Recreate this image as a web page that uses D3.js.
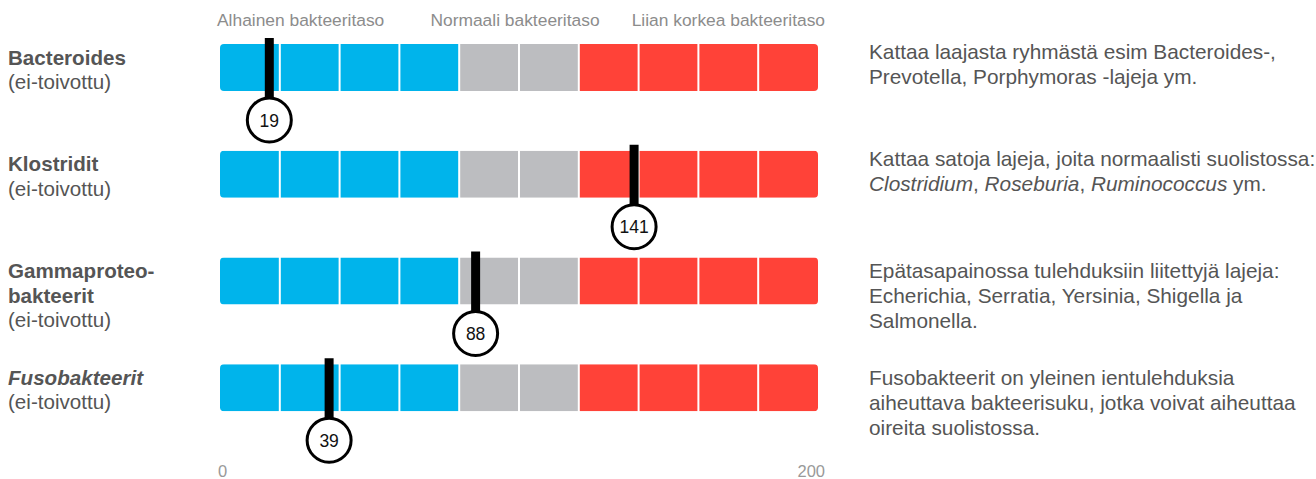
<!DOCTYPE html>
<html>
<head>
<meta charset="utf-8">
<script src="https://cdn.jsdelivr.net/npm/d3@7"></script>
<style>
  body { margin: 0; background: #fff; }
  svg { display: block; font-family: Arial, "Liberation Sans", sans-serif; }
</style>
</head>
<body>
<script>
// zones of the scale (0..200, split into cells of 20)
var zoneNames = ["Alhainen bakteeritaso", "Normaali bakteeritaso", "Liian korkea bakteeritaso"];
var zoneFrom = [0, 80, 120];
var zoneTo = [80, 120, 200];
var zoneColors = ["#00b4eb", "#bcbdc0", "#ff4238"];
var cellSize = 20;
var axisTicks = [0, 200];

// rows
var bacteria = ["Bacteroides", "Klostridit", "Gammaproteo-|bakteerit", "*Fusobakteerit*"];
var subtitles = ["(ei-toivottu)", "(ei-toivottu)", "(ei-toivottu)", "(ei-toivottu)"];
var values = [19, 141, 88, 39];
var descriptions = [
  "Kattaa laajasta ryhmästä esim Bacteroides-,|Prevotella, Porphymoras -lajeja ym.",
  "Kattaa satoja lajeja, joita normaalisti suolistossa:|*Clostridium*, *Roseburia*, *Ruminococcus* ym.",
  "Epätasapainossa tulehduksiin liitettyjä lajeja:|Echerichia, Serratia, Yersinia, Shigella ja|Salmonella.",
  "Fusobakteerit on yleinen ientulehduksia|aiheuttava bakteerisuku, jotka voivat aiheuttaa|oireita suolistossa."
];

var width = 1316, height = 479;

var svg = d3.select("body").append("svg")
    .attr("width", width)
    .attr("height", height);

var x = d3.scaleLinear().domain([0, 200]).range([220, 818]);
var y = d3.scaleBand().domain(d3.range(bacteria.length)).range([44, 471]).paddingInner(0);
var barH = 47;

// cells
var cells = [];
zoneFrom.forEach(function(f, i) {
  d3.range(f, zoneTo[i], cellSize).forEach(function(s) {
    cells.push({from: s, to: s + cellSize, color: zoneColors[i]});
  });
});

// rounded outline clip
svg.append("defs").append("clipPath").attr("id", "barclip")
  .append("rect")
    .attr("x", x(0)).attr("y", 0)
    .attr("width", x(200) - x(0)).attr("height", barH)
    .attr("rx", 4).attr("ry", 4);

// header labels
svg.append("g").selectAll("text")
  .data(zoneNames)
  .enter().append("text")
    .attr("x", function(d, i) {
      if (i == 0) return x(zoneFrom[i]) - 3;
      if (i == zoneNames.length - 1) return x(zoneTo[i]) + 7;
      return x((zoneFrom[i] + zoneTo[i]) / 2) - 4;
    })
    .attr("y", 26)
    .attr("text-anchor", function(d, i) {
      return i == 0 ? "start" : (i == zoneNames.length - 1 ? "end" : "middle");
    })
    .attr("fill", "#8c8c8c")
    .style("font-size", "17.4px")
    .text(function(d) { return d; });

// add text with *italic* parts
function richLine(textSel, str) {
  str.split("*").forEach(function(part, k) {
    if (part === "") return;
    textSel.append("tspan")
      .style("font-style", k % 2 == 1 ? "italic" : "normal")
      .text(part);
  });
}

var rows = svg.append("g").selectAll("g.row")
  .data(values)
  .enter().append("g")
    .attr("class", "row")
    .attr("transform", function(d, i) { return "translate(0," + y(i) + ")"; });

// bar cells
rows.append("g")
    .attr("clip-path", "url(#barclip)")
  .selectAll("rect")
  .data(cells)
  .enter().append("rect")
    .attr("x", function(c) { return x(c.from) + (c.from == 0 ? 0 : 1); })
    .attr("width", function(c) {
      return x(c.to) - x(c.from) - (c.from == 0 ? 1 : 2) + (c.to == 200 ? 1 : 0);
    })
    .attr("y", 0)
    .attr("height", barH)
    .attr("fill", function(c) { return c.color; });

// left labels
rows.each(function(v, i) {
  var g = d3.select(this);
  var names = bacteria[i].split("|");
  var lines = names.map(function(n) { return {t: n, bold: true}; })
      .concat([{t: subtitles[i], bold: false}]);
  lines.forEach(function(l, k) {
    var t = g.append("text")
        .attr("x", 8)
        .attr("y", 20.5 + k * 24.5)
        .attr("fill", "#555")
        .style("font-size", "20.6px")
        .style("font-weight", l.bold ? "bold" : "normal");
    richLine(t, l.t);
  });

  // description on the right
  var desc = descriptions[i].split("|");
  var top = desc.length > 2 ? 20.5 : 15;
  desc.forEach(function(line, k) {
    var t = g.append("text")
        .attr("x", 869)
        .attr("y", top + k * 25)
        .attr("fill", "#555")
        .style("font-size", "20.8px");
    richLine(t, line);
  });

  // marker
  var mx = x(v) - 7.5;
  var cy = 76, r = 22;
  g.append("line")
      .attr("x1", mx).attr("x2", mx)
      .attr("y1", -6).attr("y2", cy - r)
      .attr("stroke", "#000")
      .attr("stroke-width", 9);
  g.append("circle")
      .attr("cx", mx).attr("cy", cy).attr("r", r)
      .attr("fill", "#fff")
      .attr("stroke", "#000")
      .attr("stroke-width", 3);
  g.append("text")
      .attr("x", mx).attr("y", cy + 6.5)
      .attr("text-anchor", "middle")
      .attr("fill", "#111")
      .style("font-size", "17.5px")
      .text(v);
});

// axis end labels
svg.append("g").selectAll("text")
  .data(axisTicks)
  .enter().append("text")
    .attr("x", function(d, i) { return i == 0 ? x(d) - 2 : x(d) + 7; })
    .attr("y", 477)
    .attr("text-anchor", function(d, i) { return i == 0 ? "start" : "end"; })
    .attr("fill", "#999")
    .style("font-size", "16.5px")
    .text(function(d) { return d; });
</script>
</body>
</html>
